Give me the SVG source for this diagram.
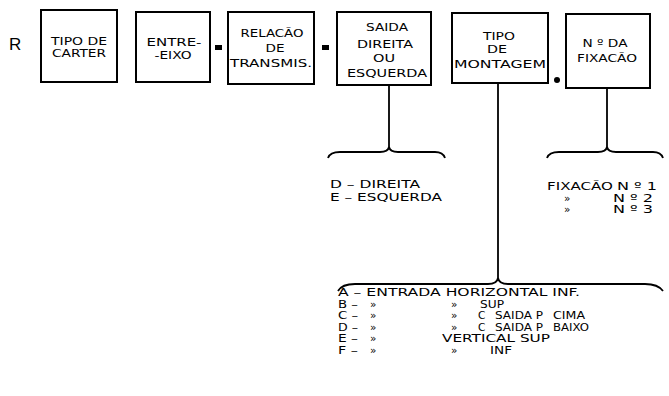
<svg xmlns="http://www.w3.org/2000/svg" width="669" height="396" viewBox="0 0 669 396">
<style>
.box{fill:#fff;stroke:#000;stroke-width:2}
.t{font-family:"DejaVu Sans","Liberation Sans",Arial,sans-serif;font-size:11px;fill:#000}
.s{font-family:"DejaVu Sans","Liberation Sans",Arial,sans-serif;font-size:10.5px;fill:#000}
.c{text-anchor:middle}
.ln{fill:none;stroke:#000;stroke-width:1.8}
</style>
<rect width="669" height="396" fill="#fff"/>
<text x="9" y="50" style="font-family:'Liberation Sans',Arial,sans-serif;font-size:17px">R</text>
<g id="n1">
<rect class="box" x="41" y="10" width="76" height="72"/>
<text class="t c" x="79" y="45" textLength="56" lengthAdjust="spacingAndGlyphs">TIPO DE</text>
<text class="t c" x="79" y="57" textLength="54" lengthAdjust="spacingAndGlyphs">CARTER</text>
</g>
<g id="n2">
<rect class="box" x="136" y="12" width="74" height="70"/>
<text class="t c" x="174" y="46" textLength="55" lengthAdjust="spacingAndGlyphs">ENTRE-</text>
<text class="t c" x="173" y="59" textLength="37" lengthAdjust="spacingAndGlyphs">-EIXO</text>
</g>
<rect x="215" y="45" width="7" height="5" fill="#000"/>
<g id="n3">
<rect class="box" x="228" y="12" width="86" height="72"/>
<text class="t c" x="272" y="37" textLength="63" lengthAdjust="spacingAndGlyphs">RELACÃO</text>
<text class="t c" x="275" y="52" textLength="19" lengthAdjust="spacingAndGlyphs">DE</text>
<text class="t c" x="271" y="67" textLength="82" lengthAdjust="spacingAndGlyphs">TRANSMIS.</text>
</g>
<rect x="322" y="45" width="7" height="5" fill="#000"/>
<g id="n4">
<rect class="box" x="337" y="12" width="94" height="73"/>
<text class="t c" x="387" y="31" textLength="42" lengthAdjust="spacingAndGlyphs">SAIDA</text>
<text class="t c" x="385" y="48" textLength="56" lengthAdjust="spacingAndGlyphs">DIREITA</text>
<text class="t c" x="384" y="62" textLength="22" lengthAdjust="spacingAndGlyphs">OU</text>
<text class="t c" x="387" y="77" textLength="80" lengthAdjust="spacingAndGlyphs">ESQUERDA</text>
</g>
<g id="n5">
<rect class="box" x="452" y="13" width="96" height="70"/>
<text class="t c" x="499" y="40" textLength="32" lengthAdjust="spacingAndGlyphs">TIPO</text>
<text class="t c" x="497" y="53" textLength="20" lengthAdjust="spacingAndGlyphs">DE</text>
<text class="t c" x="500" y="68" textLength="92" lengthAdjust="spacingAndGlyphs">MONTAGEM</text>
</g>
<circle cx="557" cy="80" r="3" fill="#000"/>
<g id="n6">
<rect class="box" x="566" y="14" width="84" height="74"/>
<text class="t c" x="605" y="47" textLength="45" lengthAdjust="spacingAndGlyphs">N º DA</text>
<text class="t c" x="607" y="62" textLength="60" lengthAdjust="spacingAndGlyphs">FIXACÃO</text>
</g>
<g id="connectors">
<line class="ln" x1="389" y1="85" x2="389" y2="148"/>
<line class="ln" x1="498" y1="83" x2="498" y2="279"/>
<line class="ln" x1="607" y1="88" x2="607" y2="148"/>
<path class="ln" d="M328,158 Q330,152 340,152 L380,152 Q388,152 389,147 Q390,152 398,152 L435,152 Q443,152 445,158"/>
<path class="ln" d="M547,158 Q549,152 559,152 L598,152 Q606,152 607,147 Q608,152 616,152 L653,152 Q661,152 663,158"/>
<path class="ln" d="M338,291 Q342,284 355,284 L488,284 Q497,284 498,278 Q499,284 508,284 L645,284 Q658,284 663,291"/>
</g>
<g id="saida-options">
<text class="t" x="330" y="188" textLength="90" lengthAdjust="spacingAndGlyphs">D – DIREITA</text>
<text class="t" x="330" y="201" textLength="112" lengthAdjust="spacingAndGlyphs">E – ESQUERDA</text>
</g>
<g id="fixacao-options">
<text class="s" x="547" y="190" textLength="66" lengthAdjust="spacingAndGlyphs">FIXACÃO</text>
<text class="s" x="617" y="190" textLength="40" lengthAdjust="spacingAndGlyphs">N º 1</text>
<text class="s" x="564" y="201.5">»</text>
<text class="s" x="613" y="201.5" textLength="40" lengthAdjust="spacingAndGlyphs">N º 2</text>
<text class="s" x="564" y="213">»</text>
<text class="s" x="613" y="213" textLength="40" lengthAdjust="spacingAndGlyphs">N º 3</text>
</g>
<g id="montagem-options">
<text class="s" x="338" y="296" textLength="242" lengthAdjust="spacingAndGlyphs">A – ENTRADA HORIZONTAL INF.</text>
<text class="s" x="338" y="307.6" textLength="20" lengthAdjust="spacingAndGlyphs">B –</text>
<text class="s" x="370" y="307.6">»</text>
<text class="s" x="451" y="307.6">»</text>
<text class="s" x="480" y="307.6" textLength="24" lengthAdjust="spacingAndGlyphs">SUP</text>
<text class="s" x="338" y="319.2" textLength="20" lengthAdjust="spacingAndGlyphs">C –</text>
<text class="s" x="370" y="319.2">»</text>
<text class="s" x="451" y="319.2">»</text>
<text class="s" x="478" y="319.2">C</text>
<text class="s" x="495" y="319.2" textLength="48" lengthAdjust="spacingAndGlyphs">SAIDA P</text>
<text class="s" x="553" y="319.2" textLength="32" lengthAdjust="spacingAndGlyphs">CIMA</text>
<text class="s" x="338" y="330.8" textLength="20" lengthAdjust="spacingAndGlyphs">D –</text>
<text class="s" x="370" y="330.8">»</text>
<text class="s" x="451" y="330.8">»</text>
<text class="s" x="478" y="330.8">C</text>
<text class="s" x="495" y="330.8" textLength="48" lengthAdjust="spacingAndGlyphs">SAIDA P</text>
<text class="s" x="553" y="330.8" textLength="36" lengthAdjust="spacingAndGlyphs">BAIXO</text>
<text class="s" x="338" y="342.4" textLength="20" lengthAdjust="spacingAndGlyphs">E –</text>
<text class="s" x="370" y="342.4">»</text>
<text class="s" x="442" y="342.4" textLength="108" lengthAdjust="spacingAndGlyphs">VERTICAL SUP</text>
<text class="s" x="338" y="354" textLength="20" lengthAdjust="spacingAndGlyphs">F –</text>
<text class="s" x="370" y="354">»</text>
<text class="s" x="451" y="354">»</text>
<text class="s" x="490" y="354" textLength="22" lengthAdjust="spacingAndGlyphs">INF</text>
</g>
</svg>
